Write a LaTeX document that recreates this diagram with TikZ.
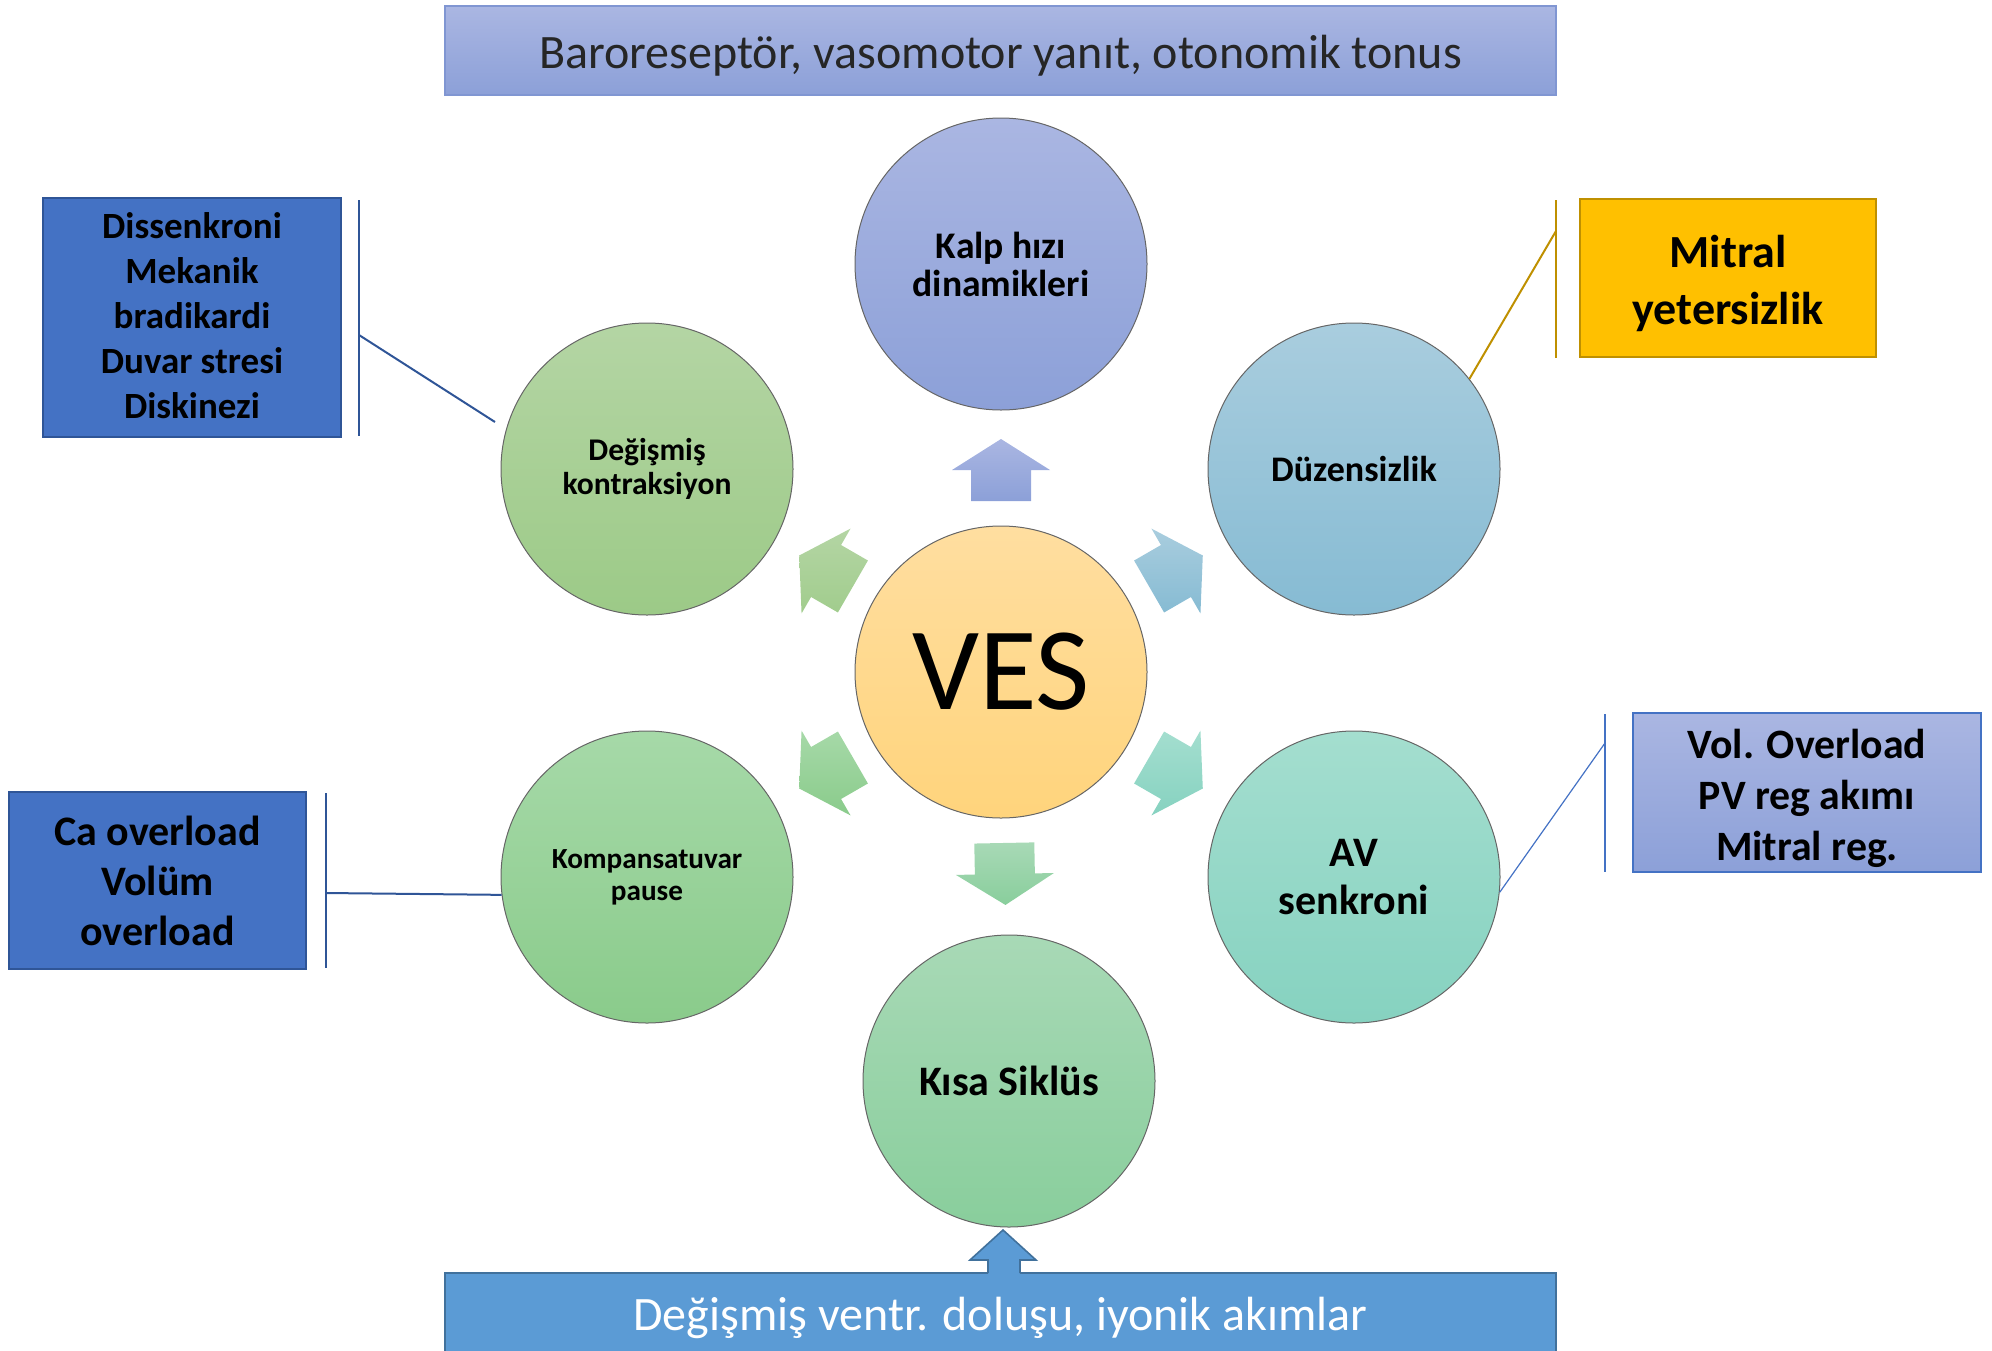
\documentclass[tikz,border=0pt]{standalone}
\usepackage{fontspec}
\setmainfont{Carlito}
\definecolor{lavT}{HTML}{AAB6E2}
\definecolor{lavB}{HTML}{8CA0D8}
\definecolor{lavD}{HTML}{8096D2}
\definecolor{blueT}{HTML}{A9CDDE}
\definecolor{blueB}{HTML}{86BBD3}
\definecolor{grT}{HTML}{B4D5A4}
\definecolor{grB}{HTML}{9CCA87}
\definecolor{vesT}{HTML}{FFDEA0}
\definecolor{vesB}{HTML}{FFD47C}
\definecolor{g2T}{HTML}{A6D9A8}
\definecolor{g2B}{HTML}{8ACB8B}
\definecolor{tealT}{HTML}{A4DECF}
\definecolor{tealB}{HTML}{86D2C0}
\definecolor{g3T}{HTML}{A8D9B6}
\definecolor{g3B}{HTML}{89CE9C}
\definecolor{boxblue}{HTML}{4472C4}
\definecolor{boxblueD}{HTML}{2F5597}
\definecolor{gold}{HTML}{FFC000}
\definecolor{goldD}{HTML}{BF9000}
\definecolor{midblue}{HTML}{5B9BD5}
\definecolor{midblueD}{HTML}{41719C}
\newcommand\vesblock[3]{\path[shift={(ves.center)},rotate=#1,top color=#2,bottom color=#3]
  (171,-30) -- (202,-30) -- (202,-49) -- (233,0) -- (202,49) -- (202,30) -- (171,30) -- cycle;}
\newcommand\shiftdown[2]{\raisebox{-#1}[\height][\depth]{#2}}
\newcommand\lines[1]{\begin{tabular}{@{}c@{}}#1\end{tabular}}
\begin{document}
\begin{tikzpicture}[x=0.5pt,y=-0.5pt,
  circ/.style={circle, minimum size=146pt, inner sep=0pt, draw=black!60, line width=0.5pt, align=center},
  callbox/.style={rectangle, inner sep=0pt, align=center, line width=1pt, font=\bfseries},
  widebox/.style={rectangle, inner sep=0pt, minimum width=555.5pt, minimum height=44.5pt, line width=0.8pt, font=\fontsize{24}{28}\selectfont}
]
\useasboundingbox (0,0) rectangle (1992,1350);
\clip (0,0) rectangle (1992,1350);

% top and bottom wide boxes
\node[widebox, top color=lavT, bottom color=lavB, draw=lavD, text=black!85] (top) at (1000.5,50.5) {\shiftdown{2.5pt}{Baroreseptör, vasomotor yanıt, otonomik tonus}};
\node[widebox, fill=midblue, draw=midblueD, minimum height=45pt, text=white] (bot) at (1000.5,1318) {\raisebox{3pt}{Değişmiş ventr. doluşu, iyonik akımlar}};

% circles
\node[circ, top color=vesT, bottom color=vesB, font=\fontsize{59}{60}\selectfont] (ves) at (1001,672) {VES};
\node[circ, top color=lavT, bottom color=lavB, font=\fontsize{18.8}{19}\selectfont\bfseries] (kalp) at (1001,264) {Kalp hızı\\dinamikleri};
\node[circ, top color=blueT, bottom color=blueB, font=\fontsize{18}{19}\selectfont\bfseries] (duz) at (1354,469) {Düzensizlik};
\node[circ, top color=grT, bottom color=grB, font=\fontsize{15.8}{17}\selectfont\bfseries] (deg) at (647,469) {Değişmiş\\kontraksiyon};
\node[circ, top color=g2T, bottom color=g2B, font=\fontsize{14.6}{16}\selectfont\bfseries] (komp) at (647,877) {Kompansatuvar\\pause};
\node[circ, top color=tealT, bottom color=tealB, font=\fontsize{21}{24}\selectfont\bfseries] (av) at (1354,877) {AV\\senkroni};
\node[circ, top color=g3T, bottom color=g3B, font=\fontsize{21}{24}\selectfont\bfseries] (kisa) at (1009,1081) {Kısa Siklüs};

% block arrows around VES
\vesblock{90}{lavT}{lavB}
\vesblock{150}{grT}{grB!95!white}
\vesblock{30}{blueT}{blueB}
\vesblock{210}{g2T}{g2B}
\vesblock{-30}{tealT}{tealB}
\vesblock{-88.9}{g3T}{g3B}

% bottom arrow into Kisa Siklus
\fill[midblue] (988,1276) -- (988,1260) -- (970,1260) -- (1003,1230) -- (1036,1260) -- (1020,1260) -- (1020,1276) -- cycle;
\draw[midblueD, line width=0.8pt] (988,1273) -- (988,1260) -- (970,1260) -- (1003,1230) -- (1036,1260) -- (1020,1260) -- (1020,1273);

% callout: Dissenkroni
\node[callbox, fill=boxblue, draw=boxblueD, minimum width=149pt, minimum height=119.5pt, font=\fontsize{18.5}{22.5}\selectfont\bfseries] (dis) at (192,317.5) {\shiftdown{0.9pt}{\lines{Dissenkroni\\Mekanik\\bradikardi\\Duvar stresi\\Diskinezi}}};
\coordinate (disA1) at (359,200);
\coordinate (disA2) at (359,436);
\coordinate (disL) at (359,335);
\coordinate (disE) at (495,422);
\draw[boxblueD, line width=1pt] (disA1) -- (disA2);
\draw[boxblueD, line width=1pt] (disL) -- (disE);

% callout: Mitral
\node[callbox, fill=gold, draw=goldD, minimum width=148pt, minimum height=79pt, font=\fontsize{23}{28.5}\selectfont\bfseries] (mit) at (1728,278) {\shiftdown{3.3pt}{\lines{Mitral\\yetersizlik}}};
\coordinate (mitA1) at (1556,200);
\coordinate (mitA2) at (1556,358);
\coordinate (mitL) at (1556,231);
\draw[goldD, line width=1pt] (mitA1) -- (mitA2);
\draw[goldD, line width=1pt] (mitL) -- (duz.38);

% callout: Vol. Overload
\node[callbox, top color=lavT, bottom color=lavB, draw=boxblue, line width=0.6pt, minimum width=174pt, minimum height=79.5pt, font=\fontsize{20.9}{25.5}\selectfont\bfseries] (vol) at (1807,792.5) {\shiftdown{3.3pt}{\lines{Vol. Overload\\PV reg akımı\\Mitral reg.}}};
\coordinate (volA1) at (1605,714);
\coordinate (volA2) at (1605,872);
\coordinate (volL) at (1605,743);
\draw[boxblue, line width=0.6pt] (volA1) -- (volA2);
\draw[boxblue, line width=0.6pt] (volL) -- (av.-6);

% callout: Ca overload
\node[callbox, fill=boxblue, draw=boxblueD, minimum width=148.5pt, minimum height=88.5pt, font=\fontsize{21}{25}\selectfont\bfseries] (ca) at (157.5,880.5) {Ca overload\\Volüm\\overload};
\coordinate (caA1) at (326,793);
\coordinate (caA2) at (326,968);
\coordinate (caL) at (326,893);
\draw[boxblueD, line width=1pt] (caA1) -- (caA2);
\draw[boxblueD, line width=1pt] (caL) -- (komp.187);
\end{tikzpicture}
\end{document}
